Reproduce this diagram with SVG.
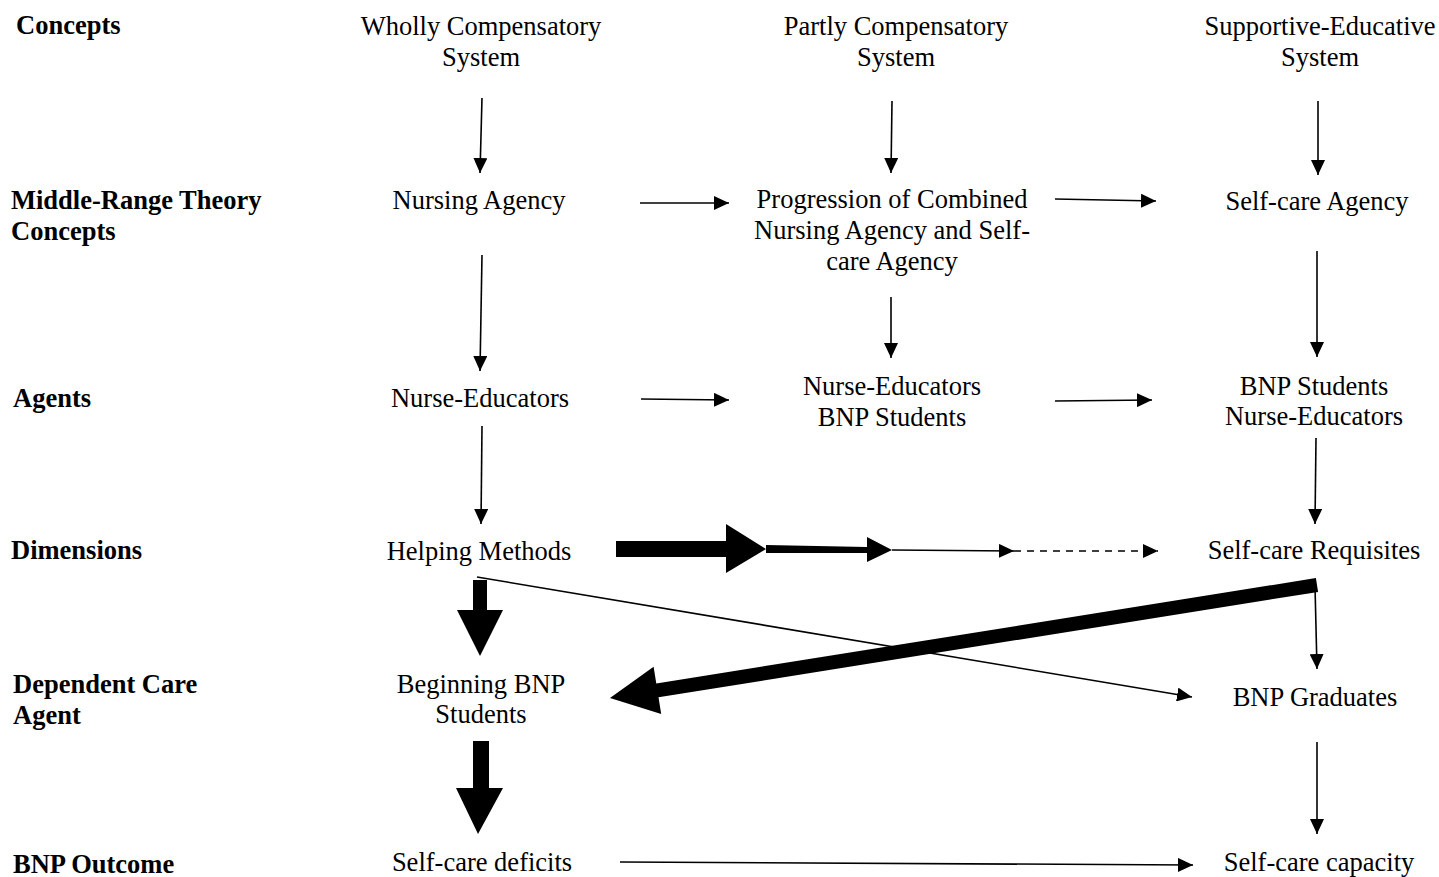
<svg xmlns="http://www.w3.org/2000/svg" width="1439" height="877" viewBox="0 0 1439 877">
<defs>
<marker id="ah" markerUnits="userSpaceOnUse" markerWidth="16" markerHeight="14" refX="15" refY="7" orient="auto"><path d="M0,0 L15,7 L0,14 z" fill="#000"/></marker>
</defs>
<style>
text{font-family:"Liberation Serif","Times New Roman",serif;font-size:26.5px;fill:#000}
.c{text-anchor:middle}
.b{font-weight:bold}
.ln{stroke:#000;stroke-width:1.6;fill:none}
.ar{marker-end:url(#ah)}
.dash{stroke-dasharray:7,6}
.thick{fill:#000;stroke:none}
</style>
<rect width="1439" height="877" fill="#fff"/>
<g id="row-labels">
<text class="b" x="16" y="34">Concepts</text>
<text class="b" x="11" y="209">Middle-Range Theory</text>
<text class="b" x="11" y="240">Concepts</text>
<text class="b" x="13" y="407">Agents</text>
<text class="b" x="11" y="559">Dimensions</text>
<text class="b" x="13" y="693">Dependent Care</text>
<text class="b" x="13" y="724">Agent</text>
<text class="b" x="13" y="873">BNP Outcome</text>
</g>
<g id="n-wholly"><text class="c" x="481" y="35">Wholly Compensatory</text><text class="c" x="481" y="66">System</text></g>
<g id="n-partly"><text class="c" x="896" y="35">Partly Compensatory</text><text class="c" x="896" y="66">System</text></g>
<g id="n-supportive"><text class="c" x="1320" y="35">Supportive-Educative</text><text class="c" x="1320" y="66">System</text></g>
<g id="n-nursing-agency"><text class="c" x="479" y="209">Nursing Agency</text></g>
<g id="n-progression"><text class="c" x="892" y="208">Progression of Combined</text><text class="c" x="892" y="239">Nursing Agency and Self-</text><text class="c" x="892" y="270">care Agency</text></g>
<g id="n-selfcare-agency"><text class="c" x="1317" y="210">Self-care Agency</text></g>
<g id="n-nurse-educators"><text class="c" x="480" y="407">Nurse-Educators</text></g>
<g id="n-ne-bnp"><text class="c" x="892" y="395">Nurse-Educators</text><text class="c" x="892" y="426">BNP Students</text></g>
<g id="n-bnp-ne"><text class="c" x="1314" y="395">BNP Students</text><text class="c" x="1314" y="425">Nurse-Educators</text></g>
<g id="n-helping"><text class="c" x="479" y="560">Helping Methods</text></g>
<g id="n-requisites"><text class="c" x="1314" y="559">Self-care Requisites</text></g>
<g id="n-beginning"><text class="c" x="481" y="693">Beginning BNP</text><text class="c" x="481" y="723">Students</text></g>
<g id="n-graduates"><text class="c" x="1315" y="706">BNP Graduates</text></g>
<g id="n-deficits"><text class="c" x="482" y="871">Self-care deficits</text></g>
<g id="n-capacity"><text class="c" x="1319" y="871">Self-care capacity</text></g>
<g id="connectors">
<line class="ln ar" x1="482" y1="98" x2="480" y2="173"/>
<line class="ln ar" x1="892" y1="101" x2="891" y2="173"/>
<line class="ln ar" x1="1318" y1="101" x2="1318" y2="175"/>
<line class="ln ar" x1="640" y1="203" x2="729" y2="203"/>
<line class="ln ar" x1="1055" y1="199" x2="1156" y2="201"/>
<line class="ln ar" x1="482" y1="255" x2="480" y2="371"/>
<line class="ln ar" x1="891" y1="297" x2="891" y2="358"/>
<line class="ln ar" x1="1317" y1="251" x2="1317" y2="357"/>
<line class="ln ar" x1="641" y1="399" x2="729" y2="400"/>
<line class="ln ar" x1="1055" y1="401" x2="1152" y2="400"/>
<line class="ln ar" x1="482" y1="426" x2="481" y2="524"/>
<line class="ln ar" x1="1316" y1="438" x2="1315" y2="524"/>
<path class="thick" d="M616,541 L726,541 L726,524 L766,549 L726,573 L726,557 L616,557 Z"/>
<path class="thick" d="M766,545 L867,547 L867,537 L892,550 L867,562 L867,553 L766,553 Z"/>
<line class="ln ar" x1="892" y1="550" x2="1014" y2="551"/>
<line class="ln ar dash" x1="1014" y1="551" x2="1158" y2="551"/>
<line class="ln ar" x1="477" y1="577" x2="1192" y2="697"/>
<path class="thick" d="M473,580 L487,580 L487,610 L503,610 L480,656 L457,610 L473,610 Z"/>
<path class="thick" d="M473,741 L489,741 L489,788 L503,788 L478,834 L456,788 L473,788 Z"/>
<path class="thick" d="M1318.1,591.9 L658.5,697.3 L661.2,714.1 L610,698 L653.6,666.7 L656.3,683.5 L1315.9,578.1 Z"/>
<line class="ln ar" x1="1315" y1="586" x2="1317" y2="669"/>
<line class="ln ar" x1="1317" y1="742" x2="1317" y2="834"/>
<line class="ln ar" x1="620" y1="862" x2="1193" y2="865"/>
</g>
</svg>
